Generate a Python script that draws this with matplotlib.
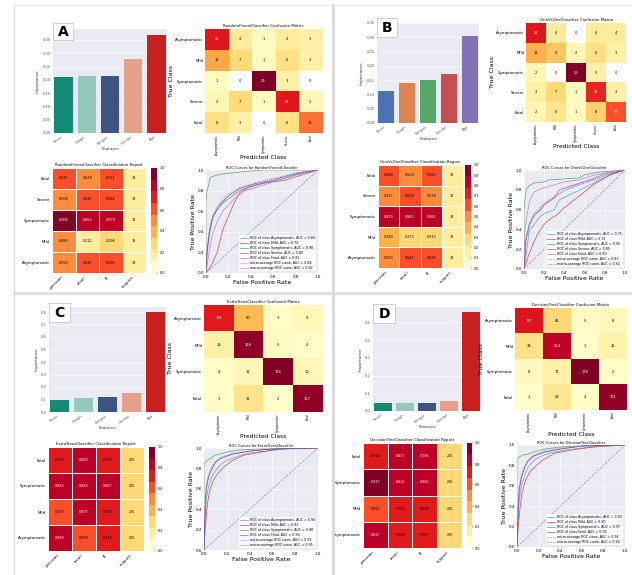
import numpy as np
import matplotlib
matplotlib.use("Agg")
import matplotlib.pyplot as plt
from matplotlib.colors import ListedColormap
from matplotlib.cm import ScalarMappable
from matplotlib.lines import Line2D

W, H = 632, 575
BG = "#EAEAF2"

classes5 = ["Asymptomatic", "Mild", "Symptomatic", "Severe", "Fatal"]
classes4 = ["Asymptomatic", "Mild", "Symptomatic", "Fatal"]
bar_labels = ["Fever", "Cough", "Fatigue", "Gender", "Age"]

# bar chart values
bar_a = [0.21, 0.215, 0.215, 0.28, 0.37]
bar_b = [0.112, 0.140, 0.150, 0.170, 0.305]
bar_c = [0.100, 0.115, 0.123, 0.152, 0.800]
bar_d = [0.044, 0.044, 0.045, 0.059, 0.557]
pal_red = ["#138a73", "#97c8bd", "#3d5580", "#e5a08a", "#c8201e"]
pal_deep = ["#4c72b0", "#dd8452", "#55a868", "#c44e52", "#8172b3"]

# confusion matrices (rows = true, cols = predicted)
cm_a = [[22, 4, 1, 4, 3], [12, 7, 1, 6, 3], [1, 0, 29, 3, 0], [2, 7, 1, 22, 2], [6, 3, 0, 6, 16]]
cm_b = [[22, 4, 0, 4, 4], [11, 9, 2, 6, 3], [2, 0, 29, 3, 0], [3, 7, 1, 21, 3], [2, 5, 1, 8, 18]]
cm_c = [[131, 60, 3, 9], [18, 168, 5, 4], [4, 11, 174, 10], [3, 31, 2, 167]]
cm_d = [[137, 45, 5, 8], [34, 154, 1, 16], [8, 17, 178, 2], [1, 29, 4, 171]]

# classification reports: precision, recall, f1 per class
rep_a = [[0.550, 0.647, 0.595], [0.480, 0.212, 0.298], [0.906, 0.853, 0.879], [0.500, 0.647, 0.564], [0.621, 0.529, 0.571]]
sup_a = [34, 33, 34, 34, 34]
rep_b = [[0.550, 0.647, 0.595], [0.360, 0.273, 0.310], [0.879, 0.845, 0.862], [0.477, 0.618, 0.538], [0.600, 0.529, 0.563]]
sup_b = [34, 33, 33, 34, 34]
rep_c = [[0.858, 0.608, 0.715], [0.597, 0.807, 0.715], [0.853, 0.883, 0.867], [0.752, 0.800, 0.776]]
sup_c = [205, 205, 205, 205]
rep_d = [[0.817, 0.703, 0.757], [0.651, 0.755, 0.698], [0.917, 0.824, 0.865], [0.758, 0.812, 0.786]]
sup_d = [205, 205, 205, 205]

# ROC curves (fpr, tpr)
roc_a = [
    ([0, 0, 0.02, 0.04, 0.06, 0.1, 0.14, 0.2, 0.3, 0.45, 0.6, 0.8, 1], [0, 0.1, 0.3, 0.45, 0.55, 0.62, 0.68, 0.75, 0.82, 0.87, 0.9, 0.97, 1]),
    ([0, 0.05, 0.1, 0.15, 0.18, 0.22, 0.26, 0.3, 0.4, 0.5, 0.7, 0.85, 1], [0, 0.08, 0.2, 0.42, 0.5, 0.6, 0.7, 0.78, 0.84, 0.87, 0.9, 0.95, 1]),
    ([0, 0, 0.01, 0.04, 0.1, 0.14, 0.3, 0.5, 1], [0, 0.7, 0.8, 0.93, 0.95, 0.96, 0.98, 1, 1]),
    ([0, 0.01, 0.03, 0.06, 0.1, 0.15, 0.2, 0.3, 0.4, 0.55, 0.7, 0.9, 1], [0, 0.2, 0.4, 0.55, 0.62, 0.68, 0.72, 0.8, 0.84, 0.88, 0.92, 0.98, 1]),
    ([0, 0.02, 0.05, 0.1, 0.15, 0.2, 0.25, 0.35, 0.5, 0.65, 0.8, 1], [0, 0.15, 0.35, 0.5, 0.6, 0.66, 0.72, 0.8, 0.85, 0.9, 0.96, 1]),
    ([0, 0.01, 0.03, 0.06, 0.1, 0.15, 0.2, 0.3, 0.45, 0.6, 0.8, 1], [0, 0.25, 0.42, 0.55, 0.65, 0.72, 0.77, 0.83, 0.88, 0.92, 0.97, 1]),
    ([0, 0.01, 0.03, 0.06, 0.1, 0.15, 0.2, 0.3, 0.45, 0.6, 0.8, 1], [0, 0.22, 0.38, 0.52, 0.62, 0.7, 0.75, 0.82, 0.87, 0.91, 0.96, 1]),
]
auc_a = [0.80, 0.70, 0.98, 0.80, 0.81, 0.84, 0.82]
roc_b = [
    ([0, 0.03, 0.05, 0.1, 0.15, 0.2, 0.3, 0.35, 0.45, 0.6, 0.75, 0.9, 1], [0, 0.2, 0.38, 0.45, 0.52, 0.56, 0.6, 0.7, 0.75, 0.82, 0.9, 0.97, 1]),
    ([0, 0.05, 0.1, 0.15, 0.2, 0.25, 0.33, 0.4, 0.5, 0.6, 0.7, 0.85, 1], [0, 0.15, 0.28, 0.38, 0.45, 0.5, 0.55, 0.62, 0.7, 0.78, 0.86, 0.95, 1]),
    ([0, 0, 0.02, 0.05, 0.1, 0.2, 0.25, 0.55, 0.6, 0.75, 1], [0, 0.6, 0.8, 0.84, 0.87, 0.88, 0.9, 0.92, 0.95, 0.98, 1]),
    ([0, 0.02, 0.05, 0.1, 0.17, 0.2, 0.3, 0.35, 0.5, 0.65, 0.8, 1], [0, 0.3, 0.45, 0.55, 0.6, 0.65, 0.72, 0.8, 0.85, 0.9, 0.96, 1]),
    ([0, 0.01, 0.03, 0.06, 0.1, 0.2, 0.3, 0.4, 0.55, 0.7, 0.85, 1], [0, 0.4, 0.55, 0.7, 0.78, 0.82, 0.85, 0.88, 0.9, 0.95, 0.98, 1]),
    ([0, 0.02, 0.05, 0.1, 0.15, 0.2, 0.3, 0.4, 0.55, 0.7, 0.85, 1], [0, 0.3, 0.45, 0.56, 0.62, 0.67, 0.73, 0.8, 0.86, 0.91, 0.96, 1]),
    ([0, 0.02, 0.05, 0.1, 0.15, 0.2, 0.3, 0.4, 0.55, 0.7, 0.85, 1], [0, 0.28, 0.42, 0.53, 0.6, 0.65, 0.72, 0.79, 0.85, 0.9, 0.96, 1]),
]
auc_b = [0.75, 0.72, 0.95, 0.80, 0.89, 0.83, 0.82]
roc_c = [
    ([0, 0.01, 0.02, 0.04, 0.06, 0.1, 0.15, 0.2, 0.3, 0.4, 0.55, 0.7, 1], [0, 0.3, 0.5, 0.62, 0.7, 0.78, 0.84, 0.88, 0.92, 0.95, 0.97, 0.99, 1]),
    ([0, 0.01, 0.03, 0.05, 0.08, 0.12, 0.18, 0.25, 0.35, 0.5, 0.65, 1], [0, 0.2, 0.45, 0.58, 0.68, 0.75, 0.82, 0.88, 0.93, 0.96, 0.99, 1]),
    ([0, 0, 0.01, 0.03, 0.06, 0.1, 0.2, 0.3, 0.5, 1], [0, 0.84, 0.86, 0.88, 0.9, 0.93, 0.96, 0.98, 0.99, 1]),
    ([0, 0.01, 0.02, 0.04, 0.07, 0.1, 0.15, 0.25, 0.4, 0.6, 1], [0, 0.4, 0.6, 0.72, 0.8, 0.86, 0.9, 0.94, 0.97, 0.99, 1]),
    ([0, 0.01, 0.02, 0.04, 0.07, 0.1, 0.15, 0.25, 0.4, 0.6, 1], [0, 0.45, 0.62, 0.74, 0.82, 0.87, 0.91, 0.95, 0.97, 0.99, 1]),
    ([0, 0.01, 0.02, 0.04, 0.07, 0.1, 0.15, 0.25, 0.4, 0.6, 1], [0, 0.42, 0.6, 0.72, 0.8, 0.86, 0.9, 0.94, 0.97, 0.99, 1]),
]
auc_c = [0.94, 0.91, 0.98, 0.96, 0.95, 0.95]
roc_d = [
    ([0, 0.01, 0.02, 0.04, 0.07, 0.1, 0.15, 0.2, 0.3, 0.45, 0.6, 0.8, 1], [0, 0.25, 0.45, 0.6, 0.7, 0.78, 0.84, 0.88, 0.92, 0.95, 0.97, 0.99, 1]),
    ([0, 0.01, 0.03, 0.05, 0.08, 0.12, 0.18, 0.25, 0.35, 0.5, 0.7, 1], [0, 0.18, 0.4, 0.55, 0.66, 0.74, 0.8, 0.86, 0.92, 0.95, 0.98, 1]),
    ([0, 0, 0.02, 0.05, 0.1, 0.15, 0.25, 0.4, 0.6, 1], [0, 0.86, 0.88, 0.9, 0.91, 0.93, 0.96, 0.98, 0.99, 1]),
    ([0, 0.01, 0.02, 0.04, 0.07, 0.1, 0.15, 0.25, 0.4, 0.6, 1], [0, 0.35, 0.55, 0.68, 0.78, 0.84, 0.89, 0.93, 0.96, 0.99, 1]),
    ([0, 0.01, 0.02, 0.04, 0.07, 0.1, 0.15, 0.25, 0.4, 0.6, 1], [0, 0.4, 0.58, 0.7, 0.79, 0.85, 0.9, 0.94, 0.97, 0.99, 1]),
    ([0, 0.01, 0.02, 0.04, 0.07, 0.1, 0.15, 0.25, 0.4, 0.6, 1], [0, 0.38, 0.56, 0.69, 0.78, 0.84, 0.89, 0.93, 0.96, 0.99, 1]),
]
auc_d = [0.93, 0.90, 0.97, 0.95, 0.94, 0.94]

roc_colors = ["#5ba3cf", "#d9453c", "#5aa469", "#7b6bc0", "#c97fb5"]

plt.rcParams["font.family"] = "DejaVu Sans"
plt.rcParams["font.size"] = 3
fig = plt.figure(figsize=(W / 100, H / 100), dpi=100)
fig.patch.set_facecolor("white")

cmap9 = ListedColormap(["#ffffcc", "#ffeda0", "#fed976", "#feb24c", "#fd8d3c",
                        "#fc4e2a", "#e31a1c", "#bd0026", "#800026"])


def rect(x0, y0, x1, y1):
    return [x0 / W, 1 - y1 / H, (x1 - x0) / W, (y1 - y0) / H]


def hide_spines(ax):
    for s in ax.spines.values():
        s.set_visible(False)


def bar_panel(box, lbox, vals, colors, ymax, step, fmt, letter):
    ax = fig.add_axes(rect(*box))
    ax.set_facecolor(BG)
    x = np.arange(len(vals))
    ax.bar(x, vals, color=colors, width=0.78, zorder=2)
    ax.set_xlim(-0.45, len(vals) - 0.55)
    ax.set_ylim(0, ymax)
    ticks = np.arange(0, ymax + 1e-9, step)
    ax.set_yticks(ticks, [fmt % t for t in ticks])
    ax.set_xticks(x, bar_labels, rotation=35, ha="right")
    ax.tick_params(length=0, labelsize=2.6, pad=1.5, colors="#555555")
    ax.yaxis.grid(True, color="white", lw=0.4)
    ax.set_axisbelow(True)
    hide_spines(ax)
    ax.set_ylabel("Importance", fontsize=3, labelpad=2, color="#333333")
    ax.set_xlabel("Features", fontsize=3, labelpad=0.5, color="#333333")
    lab = fig.add_axes(rect(*lbox))
    lab.set_facecolor("white")
    lab.set_xticks([])
    lab.set_yticks([])
    for s in lab.spines.values():
        s.set_color("#c8c8c8")
        s.set_linewidth(0.6)
    lab.text(0.5, 0.5, letter, ha="center", va="center", fontsize=10, fontweight="bold")


def cm_panel(box, cm, labels, title):
    ax = fig.add_axes(rect(*box))
    cm = np.array(cm)
    cmap = plt.get_cmap("YlOrRd").copy()
    cmap.set_bad("white")
    data = np.ma.masked_where(cm == 0, cm)
    ax.imshow(data, cmap=cmap, vmin=0, vmax=cm.max(), aspect="auto", interpolation="nearest")
    n = len(labels)
    for i in range(n):
        for j in range(n):
            v = cm[i, j]
            c = "white" if v / cm.max() > 0.6 else "black"
            ax.text(j, i, str(v), ha="center", va="center", fontsize=2.6, color=c)
    ax.set_xticks(range(n), labels, rotation=90, fontsize=2.1)
    ax.set_yticks(range(n), labels, fontsize=2.8)
    ax.tick_params(length=0, pad=1.2)
    hide_spines(ax)
    ax.set_title(title, fontsize=2.8, pad=1.5)
    ax.set_xlabel("Predicted Class", fontsize=4.3, labelpad=0.3)
    ax.set_ylabel("True Class", fontsize=4.5, labelpad=1)


def report_panel(box, cbox, scores, support, labels, title, cticks):
    ax = fig.add_axes(rect(*box))
    scores = np.array(scores)
    support = np.array(support, dtype=float)
    mat = np.column_stack([scores, support / support.sum()])
    ax.pcolormesh(mat, cmap=cmap9, vmin=0, vmax=1, edgecolors="white", linewidth=0.5)
    n = len(labels)
    for i in range(n):
        for j in range(4):
            v = mat[i, j]
            txt = "%.3f" % v if j < 3 else "%d" % support[i]
            c = "white" if v > 0.78 else "black"
            ax.text(j + 0.5, i + 0.5, txt, ha="center", va="center", fontsize=2.4, color=c)
    ax.set_xlim(0, 4)
    ax.set_ylim(0, n)
    ax.set_xticks(np.arange(4) + 0.5, ["precision", "recall", "f1", "support"], rotation=45, ha="right")
    ax.set_yticks(np.arange(n) + 0.5, labels)
    ax.tick_params(length=0, labelsize=2.8, pad=1.5)
    hide_spines(ax)
    ax.set_title(title, fontsize=2.8, pad=1.5)
    cax = fig.add_axes(rect(*cbox))
    cb = fig.colorbar(ScalarMappable(cmap=cmap9, norm=plt.Normalize(0, 1)), cax=cax, ticks=cticks)
    cb.outline.set_visible(False)
    cb.ax.tick_params(labelsize=2.4, length=1, width=0.3, pad=1)


def roc_panel(box, curves, labels, aucs, title):
    ax = fig.add_axes(rect(*box))
    ax.set_facecolor(BG)
    ax.grid(True, color="white", lw=0.4)
    ax.set_axisbelow(True)
    n = len(labels)
    for k in range(n):
        fx, ty = curves[k]
        ax.plot(fx, ty, color=roc_colors[k], lw=0.5,
                label="ROC of class %s, AUC = %.2f" % (labels[k], aucs[k]))
    ax.plot(curves[n][0], curves[n][1], color="#e0457b", lw=0.5, ls=":",
            label="micro-average ROC curve, AUC = %.2f" % aucs[n])
    ax.plot(curves[n + 1][0], curves[n + 1][1], color="#2a3f8f", lw=0.5, ls=":",
            label="macro-average ROC curve, AUC = %.2f" % aucs[n + 1])
    ax.plot([0, 1], [0, 1], color="#8a9ab8", lw=0.5, ls="--")
    ax.set_xlim(0, 1)
    ax.set_ylim(0, 1)
    ax.set_xticks(np.arange(0, 1.01, 0.2))
    ax.set_yticks(np.arange(0, 1.01, 0.2))
    ax.tick_params(length=0, labelsize=3, pad=1.5)
    hide_spines(ax)
    ax.set_title(title, fontsize=2.6, pad=1.0)
    ax.set_xlabel("False Positive Rate", fontsize=4.5, labelpad=0.5)
    ax.set_ylabel("True Positive Rate", fontsize=4.5, labelpad=1)
    leg = ax.legend(loc="lower right", fontsize=2.3, frameon=True, handlelength=2.5,
                    borderpad=0.3, labelspacing=0.35)
    leg.get_frame().set_facecolor("white")
    leg.get_frame().set_edgecolor("none")
    leg.get_frame().set_alpha(0.8)


# panel A
bar_panel((53, 29, 167, 133), (53, 23, 73, 40), bar_a, pal_red, 0.391, 0.05, "%.2f", "A")
cm_panel((205, 29, 322, 133), cm_a, classes5, "RandomForestClassifier Confusion Matrix")
report_panel((52, 168, 146, 273), (151, 168, 157, 273), rep_a, sup_a, classes5,
             "RandomForestClassifier Classification Report", [0, 0.2, 0.4, 0.6, 0.8, 1.0])
roc_panel((206, 170, 318, 273), roc_a, classes5, auc_a, "ROC Curves for RandomForestClassifier")

# panel B
bar_panel((377, 23, 479, 123), (377, 18, 397, 37), bar_b, pal_deep, 0.35, 0.05, "%.2f", "B")
cm_panel((526, 23, 626, 122), cm_b, classes5, "OneVsOneClassifier Confusion Matrix")
report_panel((378, 165, 463, 268), (465, 165, 471, 268), rep_b, sup_b, classes5,
             "OneVsOneClassifier Classification Report", list(np.arange(0, 1.01, 0.1)))
roc_panel((524, 170, 625, 269), roc_b, classes5, auc_b, "ROC Curves for OneVsOneClassifier")

# panel C
bar_panel((49, 307, 166, 412), (49, 303, 70, 322), bar_c, pal_red, 0.84, 0.1, "%.1f", "C")
cm_panel((204, 305, 322, 412), cm_c, classes4, "ExtraTreesClassifier Confusion Matrix")
report_panel((48, 447, 144, 551), (149, 447, 155, 551), rep_c, sup_c, classes4,
             "ExtraTreesClassifier Classification Report", [0, 0.2, 0.4, 0.6, 0.8, 1.0])
roc_panel((204, 448, 318, 550), roc_c, classes4, auc_c, "ROC Curves for ExtraTreesClassifier")

# panel D
bar_panel((373, 307, 481, 411), (373, 304, 395, 323), bar_d, pal_red, 0.586, 0.1, "%.1f", "D")
cm_panel((515, 308, 627, 410), cm_d, classes4, "DecisionTreeClassifier Confusion Matrix")
report_panel((363, 443, 462, 548), (467, 443, 472, 548), rep_d, sup_d, classes4,
             "DecisionTreeClassifier Classification Report", [0, 0.2, 0.4, 0.6, 0.8, 1.0])
roc_panel((517, 445, 625, 547), roc_d, classes4, auc_d, "ROC Curves for DecisionTreeClassifier")

# separators between the four quadrants
def sep(x0, y0, x1, y1, lw, color):
    fig.add_artist(Line2D([x0 / W, x1 / W], [1 - y0 / H, 1 - y1 / H],
                          transform=fig.transFigure, color=color, lw=lw))

sep(14, 5, 14, 575, 0.8, "#d5d5d5")
sep(14, 5, 632, 5, 0.6, "#ececec")
sep(333, 5, 333, 575, 2.0, "#d9d9d9")
sep(14, 293, 632, 293, 2.0, "#dedede")

fig.savefig("out.png", dpi=100)
